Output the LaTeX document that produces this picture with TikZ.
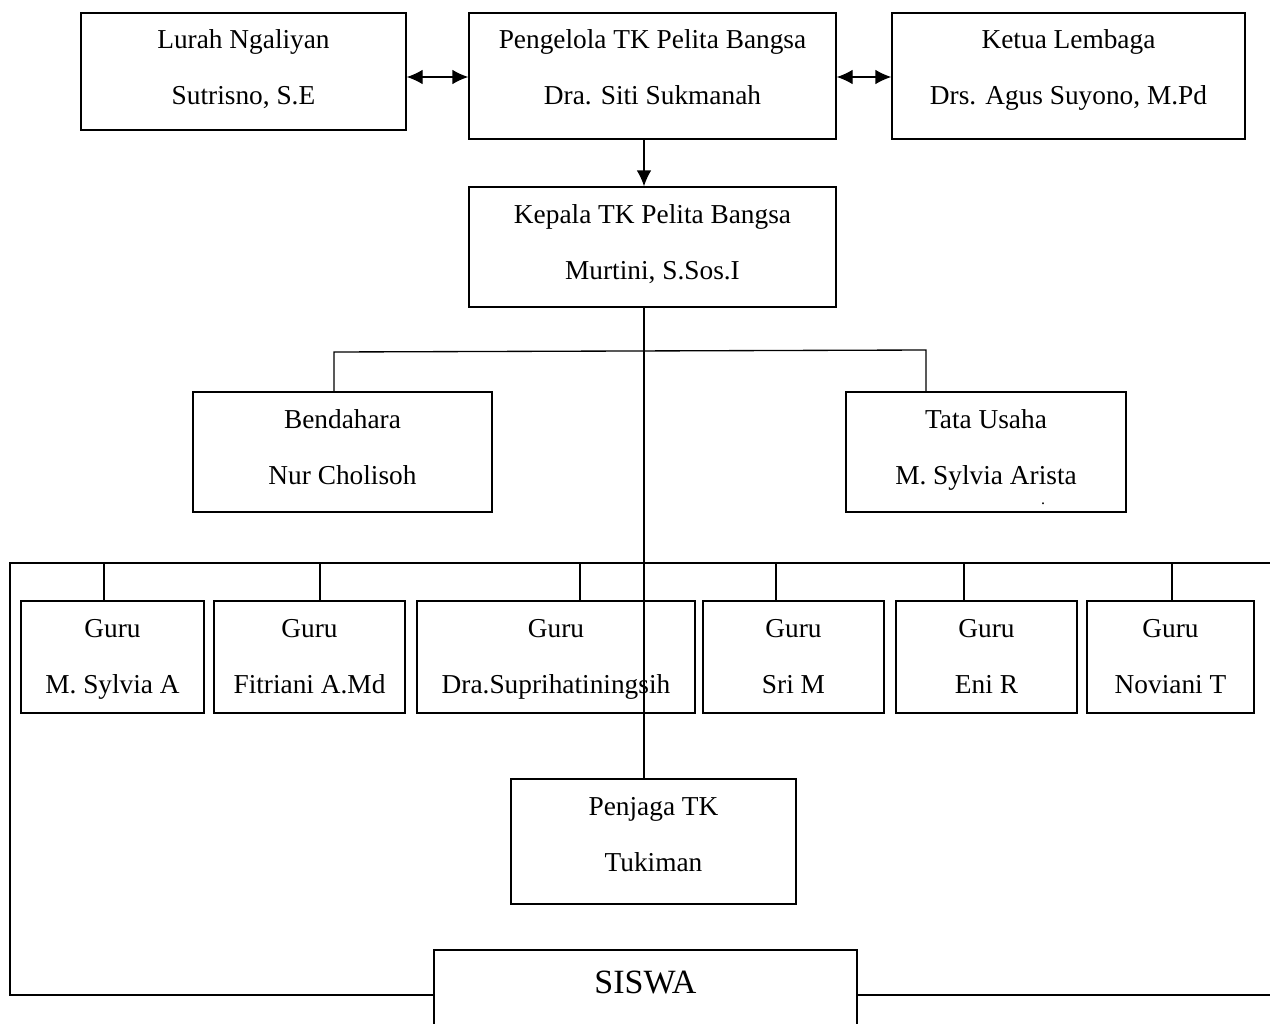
\documentclass[tikz,border=0pt]{standalone}
\usepackage{fontspec}
\setmainfont{Liberation Serif}
\usetikzlibrary{arrows.meta}
\tikzset{
  orgbox/.style={draw, line width=1pt, inner sep=0pt, fill=none},
  boxtext/.style={inner sep=0pt, anchor=base, font=\fontsize{20.5}{24}\selectfont},
  bigtext/.style={inner sep=0pt, anchor=base, font=\fontsize{25.5}{30}\selectfont},
  conn/.style={line width=1pt},
  tip/.style={line width=1pt, -{Latex[length=12pt,width=11pt]}},
  dtip/.style={line width=1pt, {Latex[length=12pt,width=11pt]}-{Latex[length=12pt,width=11pt]}},
}
% #1 name, #2 x1, #3 y1, #4 x2, #5 y2, #6 line1, #7 line2
\newcommand\OrgBox[7]{%
  \pgfmathsetmacro\bw{(#4-#2)*0.75}%
  \pgfmathsetmacro\bh{(#5-#3)*0.75}%
  \node[orgbox, minimum width=\bw pt, minimum height=\bh pt] (#1) at ({(#2+#4)/2},{(#3+#5)/2}) {};
  \node[boxtext] (#1-a) at ({(#2+#4)/2},{#3+36}) {#6};
  \node[boxtext] (#1-b) at ({(#2+#4)/2},{#3+92}) {#7};
}
\begin{document}
\begin{tikzpicture}[x=0.75pt,y=-0.75pt]
\useasboundingbox (0,0) rectangle (1279,1024);

\OrgBox{lurah}{81}{13}{406}{130}{Lurah Ngaliyan}{Sutrisno, S.E}
\OrgBox{pengelola}{469}{13}{836}{139}{Pengelola TK Pelita Bangsa}{Dra. Siti Sukmanah}
\OrgBox{ketua}{892}{13}{1245}{139}{Ketua Lembaga}{Drs. Agus Suyono, M.Pd}
\OrgBox{kepala}{469}{187}{836}{307}{Kepala TK Pelita Bangsa}{Murtini, S.Sos.I}
\OrgBox{bend}{193}{392}{492}{512}{Bendahara}{Nur Cholisoh}
\OrgBox{tu}{846}{392}{1126}{512}{Tata Usaha}{M. Sylvia Arista}
\node[boxtext, font=\fontsize{12}{14}\selectfont] (tudot) at (1043,504) {.};
\OrgBox{g1}{21}{601}{204}{713}{Guru}{M. Sylvia A}
\OrgBox{g2}{214}{601}{405}{713}{Guru}{Fitriani A.Md}
\OrgBox{g3}{417}{601}{695}{713}{Guru}{Dra.Suprihatiningsih}
\OrgBox{g4}{703}{601}{884}{713}{Guru}{Sri M}
\OrgBox{g5}{896}{601}{1077}{713}{Guru}{Eni R}
\OrgBox{g6}{1087}{601}{1254}{713}{Guru}{Noviani T}
\OrgBox{penjaga}{511}{779}{796}{904}{Penjaga TK}{Tukiman}

\pgfmathsetmacro\sw{(857-434)*0.75}
\pgfmathsetmacro\sh{(1040-950)*0.75}
\node[orgbox, minimum width=\sw pt, minimum height=\sh pt] (siswa) at (645.5,995) {};
\node[bigtext] (siswa-t) at (645.5,993) {SISWA};

% coordinates
\coordinate (spine) at (644,0);
\coordinate (ay) at (0,77);
\coordinate (bl) at (334,352);
\coordinate (br) at (926,350);
\coordinate (hl) at (10,563);
\coordinate (hr) at (1270,563);
\coordinate (ll) at (10,995);
\coordinate (rr) at (1270,995);

% arrows on top row
\draw[dtip] (lurah.east |- ay) -- (pengelola.west |- ay);
\draw[dtip] (pengelola.east |- ay) -- (ketua.west |- ay);
\draw[tip] (pengelola.south -| spine) -- (kepala.north -| spine);

% spine
\draw[conn] (kepala.south -| spine) -- (penjaga.north -| spine);

% bendahara / tata usaha branch
\draw[conn] (bend.north -| bl) -- (bl) -- (br) -- (tu.north -| br);

% guru bus
\draw[conn] (siswa.west) -- (ll) -- (hl) -- (hr);
\draw[conn] (siswa.east) -- (rr);
\foreach \g/\x in {g1/104,g2/320,g3/580,g4/776,g5/964,g6/1172}{
  \draw[conn] (\x,563) -- (\g.north -| \x,0);
}
\end{tikzpicture}
\end{document}
